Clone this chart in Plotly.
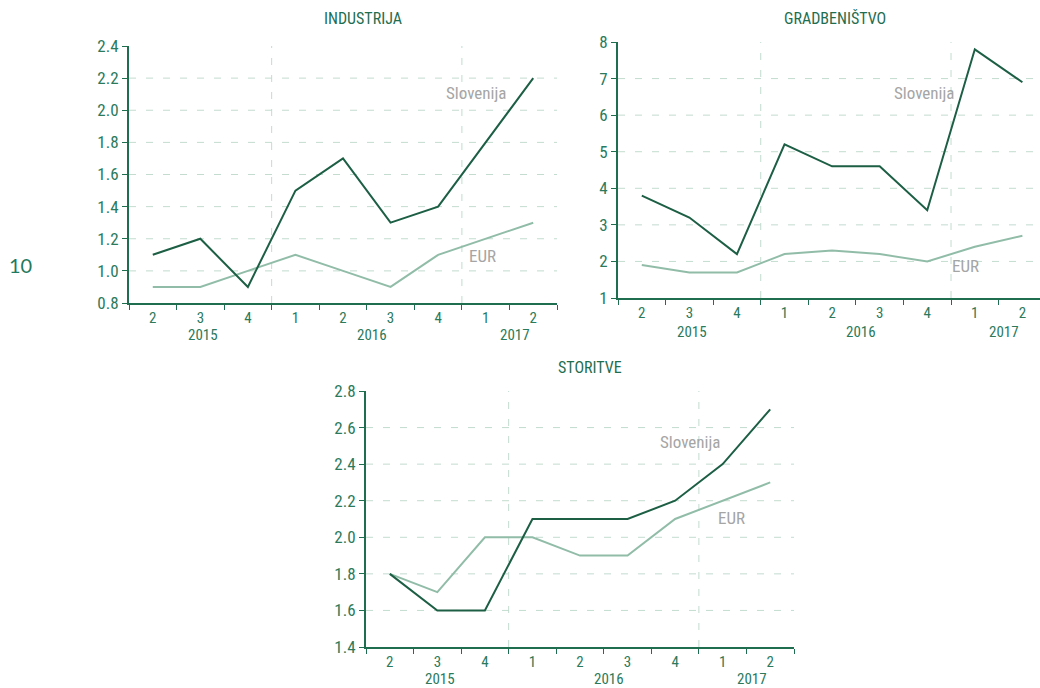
import plotly.graph_objects as go

W, H = 1040, 688

quarters = ["2", "3", "4", "1", "2", "3", "4", "1", "2"]
years = ["2015", "2016", "2017"]
year_pos = [1.05, 4.6, 7.62]
year_breaks = [2.5, 6.5]

titles = ["INDUSTRIJA", "GRADBENIŠTVO", "STORITVE"]

ind_slo = [1.1, 1.2, 0.9, 1.5, 1.7, 1.3, 1.4, 1.8, 2.2]
ind_eur = [0.9, 0.9, 1.0, 1.1, 1.0, 0.9, 1.1, 1.2, 1.3]
ind_ticks = [0.8, 1.0, 1.2, 1.4, 1.6, 1.8, 2.0, 2.2, 2.4]

gra_slo = [3.8, 3.2, 2.2, 5.2, 4.6, 4.6, 3.4, 7.8, 6.9]
gra_eur = [1.9, 1.7, 1.7, 2.2, 2.3, 2.2, 2.0, 2.4, 2.7]
gra_ticks = [1, 2, 3, 4, 5, 6, 7, 8]

sto_slo = [1.8, 1.6, 1.6, 2.1, 2.1, 2.1, 2.2, 2.4, 2.7]
sto_eur = [1.8, 1.7, 2.0, 2.0, 1.9, 1.9, 2.1, 2.2, 2.3]
sto_ticks = [1.4, 1.6, 1.8, 2.0, 2.2, 2.4, 2.6, 2.8]

C_SLO = "#1c5f45"
C_EUR = "#91bda8"
C_AXIS = "#1f6e50"
C_TEXT = "#2b7a5c"
C_GRID = "#c3dccf"
C_LABEL = "#a5a5a5"
FONT = "Liberation Sans Narrow, Arial Narrow, Roboto Condensed, sans-serif"

def px_x(p):
    return p / W

def px_y(p):
    return 1 - p / H

panels = [
    dict(slo=ind_slo, eur=ind_eur, ticks=ind_ticks, fmt="%.1f",
         xd=(129, 557), yd=(46, 303), xmax=8.5, tpos=(363, 18),
         slo_lab=(6.8, 2.11), eur_lab=(6.93, 1.09), yy=335.5),
    dict(slo=gra_slo, eur=gra_eur, ticks=gra_ticks, fmt="%d",
         xd=(618, 1040), yd=(42, 298), xmax=8.37, tpos=(835, 18),
         slo_lab=(5.94, 6.6), eur_lab=(6.8, 1.87), yy=331.5),
    dict(slo=sto_slo, eur=sto_eur, ticks=sto_ticks, fmt="%.1f",
         xd=(366, 794), yd=(391, 647), xmax=8.5, tpos=(590, 368),
         slo_lab=(6.32, 2.52), eur_lab=(7.18, 2.105), yy=679),
]

fig = go.Figure()
annotations = []
shapes = []
xs = list(range(len(quarters)))

for i, p in enumerate(panels):
    n = "" if i == 0 else str(i + 1)
    xa, ya = "x" + n, "y" + n
    fig.add_trace(go.Scatter(x=xs, y=p["eur"], mode="lines", xaxis=xa, yaxis=ya,
                             line=dict(color=C_EUR, width=2), showlegend=False))
    fig.add_trace(go.Scatter(x=xs, y=p["slo"], mode="lines", xaxis=xa, yaxis=ya,
                             line=dict(color=C_SLO, width=2), showlegend=False))
    tk = p["ticks"]
    fig.update_layout(**{
        "xaxis" + n: dict(
            domain=[px_x(p["xd"][0]), px_x(p["xd"][1])],
            range=[-0.5, p["xmax"]], anchor=ya, automargin=False,
            tickmode="array", tickvals=xs, ticktext=quarters, ticks="",
            showgrid=False, zeroline=False, showline=True, linecolor=C_AXIS, linewidth=2,
            tickfont=dict(family=FONT, size=15, color=C_TEXT),
            minor=dict(tickmode="linear", tick0=-0.5, dtick=1, ticks="outside",
                       ticklen=5, tickcolor=C_AXIS, tickwidth=1, showgrid=False),
            fixedrange=True,
        ),
        "yaxis" + n: dict(
            domain=[px_y(p["yd"][1]), px_y(p["yd"][0])],
            range=[tk[0], tk[-1]], anchor=xa, automargin=False,
            tickmode="array", tickvals=tk, ticktext=[p["fmt"] % v for v in tk],
            ticks="outside", ticklen=5, tickcolor=C_AXIS, tickwidth=1,
            showgrid=False, zeroline=False, showline=True, linecolor=C_AXIS, linewidth=2,
            tickfont=dict(family=FONT, size=17, color=C_TEXT),
            fixedrange=True,
        ),
    })
    for v in tk[1:-1]:
        shapes.append(dict(type="line", xref=xa + " domain", yref=ya, x0=0, x1=1, y0=v, y1=v,
                           line=dict(color=C_GRID, width=1, dash="7px,10px"), layer="below"))
    for b in year_breaks:
        shapes.append(dict(type="line", xref=xa, yref=ya + " domain", x0=b, x1=b, y0=0, y1=1,
                           line=dict(color=C_GRID, width=1, dash="7px,10px"), layer="below"))
    annotations.append(dict(text=titles[i], xref="paper", yref="paper",
                            x=px_x(p["tpos"][0]), y=px_y(p["tpos"][1]),
                            xanchor="center", yanchor="middle", showarrow=False,
                            font=dict(family=FONT, size=16, color=C_AXIS)))
    annotations.append(dict(text="Slovenija", xref=xa, yref=ya, x=p["slo_lab"][0], y=p["slo_lab"][1],
                            xanchor="center", yanchor="middle", showarrow=False,
                            font=dict(family=FONT, size=17, color=C_LABEL)))
    annotations.append(dict(text="EUR", xref=xa, yref=ya, x=p["eur_lab"][0], y=p["eur_lab"][1],
                            xanchor="center", yanchor="middle", showarrow=False,
                            font=dict(family=FONT, size=17, color=C_LABEL)))
    for yl, yp in zip(years, year_pos):
        annotations.append(dict(text=yl, xref=xa, yref="paper", x=yp, y=px_y(p["yy"]),
                                xanchor="center", yanchor="middle", showarrow=False,
                                font=dict(family=FONT, size=15, color=C_TEXT)))

annotations.append(dict(text="10", xref="paper", yref="paper", x=px_x(20), y=px_y(265),
                        xanchor="center", yanchor="middle", showarrow=False,
                        font=dict(family="Lato, Noto Sans, sans-serif", size=20, color="#1f7a5e")))

fig.update_layout(width=W, height=H, margin=dict(l=0, r=0, t=0, b=0, autoexpand=False),
                  paper_bgcolor="white", plot_bgcolor="white",
                  annotations=annotations, shapes=shapes, showlegend=False)

fig.write_html("out.html", config={"displayModeBar": False})
